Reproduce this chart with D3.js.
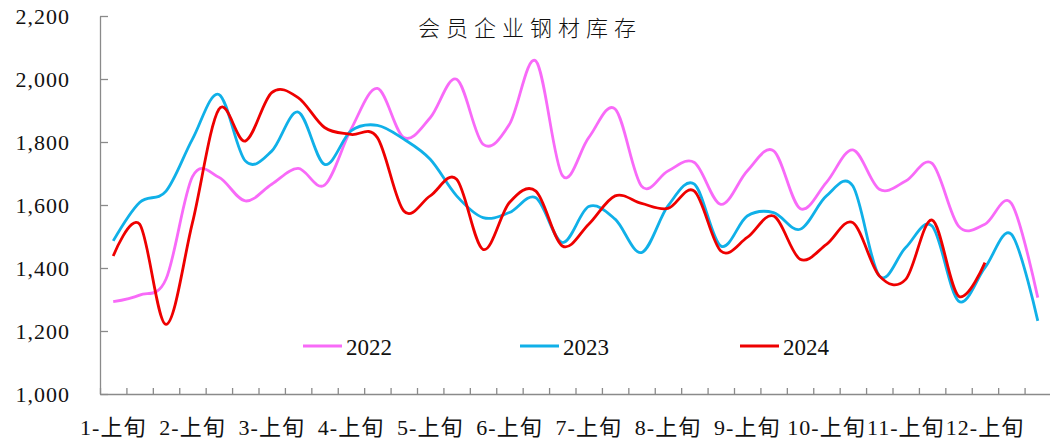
<!DOCTYPE html>
<html>
<head>
<meta charset="utf-8">
<script src="https://cdn.jsdelivr.net/npm/d3@7"></script>
<style>
  html, body { margin: 0; padding: 0; background: #fff; }
  svg { display: block; }
</style>
</head>
<body>
<script>
var width = 1050;
var height = 440;

// categories: each month split into 上旬 / 中旬 / 下旬
var months = d3.range(1, 13);
var parts = ["上旬", "中旬", "下旬"];
var categories = [];
months.forEach(function (m) {
    parts.forEach(function (p) { categories.push(m + "-" + p); });
});

var yTicks = [1000, 1200, 1400, 1600, 1800, 2000, 2200];
var seriesNames = ["2022", "2023", "2024"];
var seriesColors = ["#f86af8", "#10b0e8", "#ee0000"];

var values2022 = [1293, 1314, 1365, 1690, 1688, 1613, 1666, 1716, 1663, 1840, 1970, 1814,
                  1877, 1999, 1793, 1856, 2057, 1694, 1814, 1905, 1660, 1708, 1735, 1602,
                  1708, 1772, 1589, 1672, 1775, 1650, 1676, 1732, 1533, 1539, 1605, 1306];
var values2023 = [1486, 1608, 1644, 1809, 1951, 1740, 1771, 1895, 1729, 1835, 1853, 1809,
                  1745, 1629, 1560, 1576, 1623, 1481, 1595, 1555, 1449, 1597, 1666, 1470,
                  1565, 1576, 1523, 1629, 1660, 1375, 1465, 1533, 1295, 1401, 1507, 1232];
var values2024 = [1438, 1539, 1221, 1544, 1904, 1803, 1957, 1941, 1846, 1824, 1814, 1581,
                  1629, 1682, 1459, 1608, 1644, 1470, 1539, 1629, 1605, 1589, 1644, 1454,
                  1497, 1565, 1428, 1475, 1544, 1375, 1364, 1552, 1311, 1417];

var allSeries = [values2022, values2023, values2024];

var plotLeft = 100, plotRight = 1051, plotTop = 16, plotBottom = 394;

var x = d3.scaleBand().domain(categories).range([plotLeft, plotRight]).padding(0);
var xEdge = d3.scaleLinear().domain([0, categories.length]).range([plotLeft, plotRight]);
var y = d3.scaleLinear().domain([1000, 2200]).range([plotBottom, plotTop]);

var svg = d3.select("body")
    .append("svg")
    .attr("width", width)
    .attr("height", height);

// title
svg.append("text")
    .attr("x", 530)
    .attr("y", 36)
    .attr("text-anchor", "middle")
    .attr("font-family", "'Noto Sans CJK SC', sans-serif")
    .attr("font-weight", 300)
    .attr("font-size", "22px")
    .attr("letter-spacing", "6px")
    .attr("fill", "#111")
    .text("会员企业钢材库存");

// y axis
var yAxis = svg.append("g")
    .attr("transform", "translate(" + plotLeft + ",0)")
    .call(d3.axisLeft(y)
        .tickValues(yTicks)
        .tickSizeInner(-8)
        .tickSizeOuter(0)
        .tickPadding(30)
        .tickFormat(d3.format(",")));
yAxis.select(".domain").attr("stroke", "#8a8a8a").attr("stroke-width", 1.3);
yAxis.selectAll(".tick line").attr("stroke", "#8a8a8a").attr("stroke-width", 1.3);
yAxis.selectAll("text")
    .attr("font-family", "'Liberation Serif', serif")
    .attr("font-size", "22px")
    .attr("letter-spacing", "1px")
    .attr("fill", "#111");

// x axis: tick marks sit on the category edges
var xTicks = svg.append("g")
    .attr("transform", "translate(0," + plotBottom + ")")
    .call(d3.axisBottom(xEdge)
        .tickValues(d3.range(0, categories.length + 1))
        .tickSizeInner(-6)
        .tickSizeOuter(0)
        .tickFormat(""));
xTicks.select(".domain").attr("stroke", "#8a8a8a").attr("stroke-width", 1.3);
xTicks.selectAll(".tick line").attr("stroke", "#8a8a8a").attr("stroke-width", 1.3);

// x labels, one per month (上旬)
var xLabels = svg.append("g")
    .attr("transform", "translate(0," + plotBottom + ")")
    .call(d3.axisBottom(x)
        .tickValues(categories.filter(function (d, i) { return i % 3 === 0; }))
        .tickSize(0)
        .tickPadding(25));
xLabels.select(".domain").remove();
xLabels.selectAll("text")
    .attr("font-family", "'Liberation Serif', 'Noto Sans CJK SC', serif")
    .attr("font-size", "22px")
    .attr("letter-spacing", "1px")
    .attr("fill", "#111");

// lines (uniform catmull-rom is close to the spreadsheet smoothing)
var line = d3.line()
    .x(function (d, i) { return x(categories[i]) + x.bandwidth() / 2; })
    .y(function (d) { return y(d); })
    .curve(d3.curveCatmullRom.alpha(0));

svg.selectAll("path.series")
    .data(allSeries)
    .enter()
    .append("path")
    .attr("class", "series")
    .attr("d", line)
    .attr("fill", "none")
    .attr("stroke", function (d, i) { return seriesColors[i]; })
    .attr("stroke-width", 2.8)
    .attr("stroke-linejoin", "round");

// legend
var legendX = [303, 520, 740];
var legend = svg.selectAll("g.legend")
    .data(seriesNames)
    .enter()
    .append("g")
    .attr("class", "legend")
    .attr("transform", function (d, i) { return "translate(" + legendX[i] + ",346)"; });
legend.append("line")
    .attr("x1", 0).attr("x2", 39)
    .attr("y1", 0).attr("y2", 0)
    .attr("stroke", function (d, i) { return seriesColors[i]; })
    .attr("stroke-width", 2.8);
legend.append("text")
    .attr("x", 43)
    .attr("y", 9)
    .attr("font-family", "'Liberation Serif', serif")
    .attr("font-size", "23px")
    .attr("fill", "#111")
    .text(function (d) { return d; });
</script>
</body>
</html>
